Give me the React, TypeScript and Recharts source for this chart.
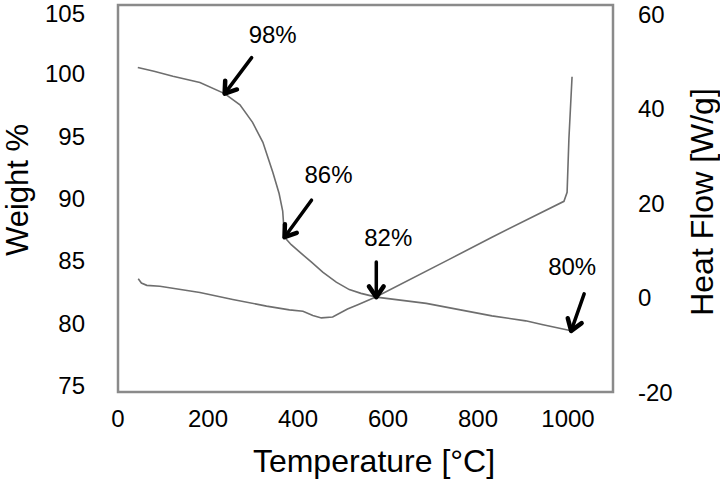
import React from 'react';
import { ComposedChart, Line, XAxis, YAxis, ReferenceArea, ReferenceDot } from 'recharts';

// TGA weight curve (left axis)
const weightTemp = [44, 80, 122, 182, 237, 271, 299, 322, 344, 358, 366, 370, 385, 404, 430, 455, 485, 514, 540, 574, 685, 758, 831, 906, 942, 1007];
const weightPct = [100.5, 100.2, 99.8, 99.3, 98.4, 97.5, 96.1, 94.5, 92.1, 90.4, 89.0, 86.9, 86.3, 85.7, 84.9, 84.1, 83.3, 82.7, 82.4, 82.1, 81.6, 81.1, 80.6, 80.2, 79.9, 79.4];

// DSC heat flow curve (right axis)
const heatTemp = [45, 52, 64, 93, 182, 255, 330, 381, 411, 433, 452, 477, 510, 533, 574, 736, 831, 991, 998, 1002, 1009];
const heatFlow = [4.0, 3.1, 2.6, 2.4, 1.1, -0.4, -1.8, -2.6, -2.9, -3.8, -4.3, -4.1, -2.4, -1.5, 0.2, 8.1, 12.8, 20.4, 22.3, 33.6, 46.8];

// arrow annotations on the weight curve
const markTemp = [237, 370, 574, 1007];
const markWeight = [98.4, 86.9, 82.1, 79.4];
const markLabel = ['98%', '86%', '82%', '80%'];

const xTicks = [0, 200, 400, 600, 800, 1000];
const weightTicks = [75, 80, 85, 90, 95, 100, 105];
const heatTicks = [-20, 0, 20, 40, 60];

const weightData = weightTemp.map((t, i) => ({ t, w: weightPct[i] }));
const heatData = heatTemp.map((t, i) => ({ t, h: heatFlow[i] }));

// arrow geometry: tail offset from tip and label offset (px)
const arrowStyle: Record<string, { dx: number; dy: number; lx: number; ly: number }> = {
	'98%': { dx: 27, dy: -36, lx: 48, ly: -59 },
	'86%': { dx: 27, dy: -37, lx: 44, ly: -63 },
	'82%': { dx: 0, dy: -35, lx: 12, ly: -60 },
	'80%': { dx: 13, dy: -37, lx: 1, ly: -64 },
};

const FONT = '"Liberation Sans", Arial, sans-serif';

const Arrow = (props: any) => {
	const { cx, cy, label } = props;
	const s = arrowStyle[label];
	const ang = Math.atan2(s.dy, s.dx);
	const len = 13;
	const a1 = ang + 0.6;
	const a2 = ang - 0.6;
	return (
		<g>
			<line x1={ cx } y1={ cy } x2={ cx + s.dx } y2={ cy + s.dy } stroke="#000" strokeWidth={ 3.5 } strokeLinecap="round" />
			<polyline
				points={ `${cx + len * Math.cos(a1)},${cy + len * Math.sin(a1)} ${cx},${cy} ${cx + len * Math.cos(a2)},${cy + len * Math.sin(a2)}` }
				fill="none"
				stroke="#000"
				strokeWidth={ 4.5 }
				strokeLinecap="round"
				strokeLinejoin="round"
			/>
			<text x={ cx + s.lx } y={ cy + s.ly } textAnchor="middle" dominantBaseline="central" fontSize={ 24 } fontFamily={ FONT } fill="#000">
				{ label }
			</text>
		</g>
	);
};

const tickStyle = { fontSize: 24, fill: '#000', fontFamily: FONT };

export default function App() {
	return (
		<div style={ { position: 'absolute', left: 0, top: 0, background: '#fff' } }>
			<ComposedChart width={ 720 } height={ 479 } margin={ { top: 5, right: 0, bottom: 0, left: 0 } }>
				<XAxis
					type="number"
					dataKey="t"
					domain={ [0, 1100] }
					ticks={ xTicks }
					axisLine={ false }
					tickLine={ false }
					tickSize={ 0 }
					tickMargin={ 18 }
					height={ 87 }
					tick={ tickStyle }
					label={ () => (
						<text x={ 374 } y={ 472 } textAnchor="middle" fontSize={ 32 } fontFamily={ FONT } fill="#000">Temperature [°C]</text>
					) }
				/>
				<YAxis
					yAxisId="left"
					domain={ [74.5, 105.5] }
					ticks={ weightTicks }
					axisLine={ false }
					tickLine={ false }
					tickSize={ 0 }
					tickMargin={ 33 }
					width={ 118 }
					tick={ tickStyle }
					label={ () => (
						<text transform="translate(28,190) rotate(-90)" textAnchor="middle" fontSize={ 31 } fontFamily={ FONT } fill="#000">Weight %</text>
					) }
				/>
				<YAxis
					yAxisId="right"
					orientation="right"
					domain={ [-20, 62] }
					ticks={ heatTicks }
					axisLine={ false }
					tickLine={ false }
					tickSize={ 0 }
					tickMargin={ 25 }
					width={ 107 }
					tick={ tickStyle }
					label={ () => (
						<text transform="translate(713,202) rotate(-90)" textAnchor="middle" fontSize={ 32 } fontFamily={ FONT } fill="#000">Heat Flow [W/g]</text>
					) }
				/>
				<ReferenceArea yAxisId="left" x1={ 0 } x2={ 1100 } y1={ 74.5 } y2={ 105.5 } fill="none" stroke="#8a8a8a" strokeWidth={ 2.5 } ifOverflow="visible" />
				<Line yAxisId="left" data={ weightData } dataKey="w" type="linear" stroke="#6e6e6e" strokeWidth={ 1.6 } dot={ false } isAnimationActive={ false } />
				<Line yAxisId="right" data={ heatData } dataKey="h" type="linear" stroke="#6e6e6e" strokeWidth={ 1.6 } dot={ false } isAnimationActive={ false } />
				{ markTemp.map((t, i) => (
					<ReferenceDot
						key={ markLabel[i] }
						yAxisId="left"
						x={ t }
						y={ markWeight[i] }
						ifOverflow="visible"
						shape={ (p: any) => <Arrow cx={ p.cx } cy={ p.cy } label={ markLabel[i] } /> }
					/>
				)) }
			</ComposedChart>
		</div>
	);
}
